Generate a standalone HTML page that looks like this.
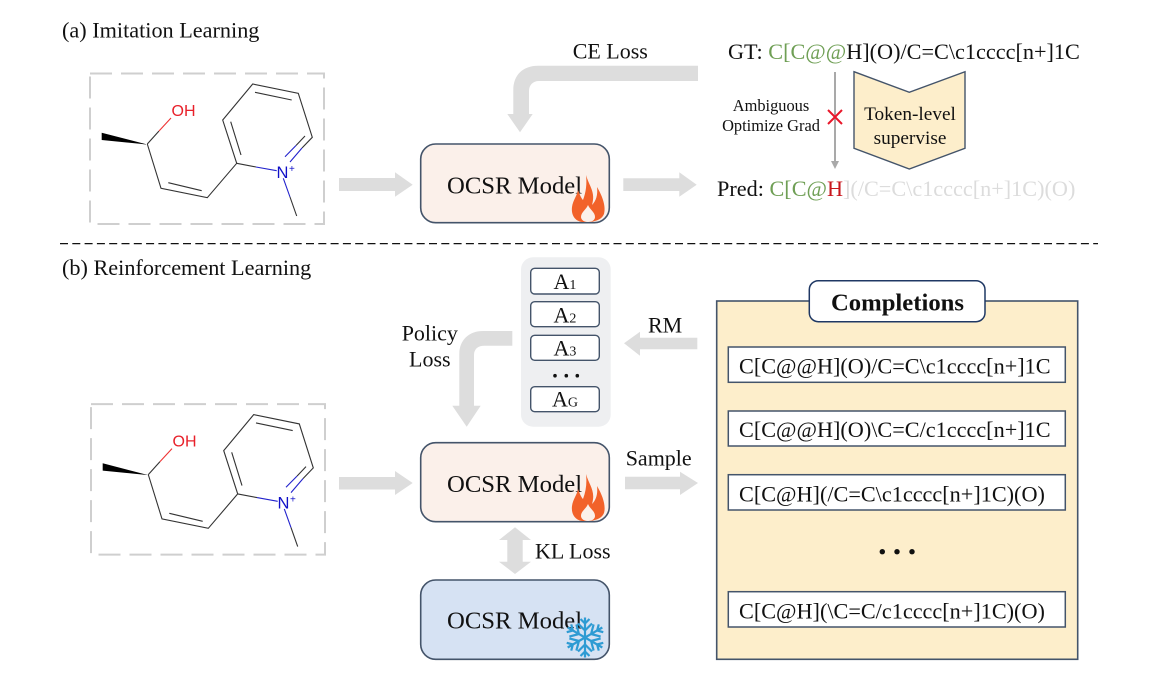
<!DOCTYPE html>
<html><head><meta charset="utf-8"><style>
html,body{margin:0;padding:0;background:#fff;width:1149px;height:697px;overflow:hidden}
svg{display:block}
text{font-family:"Liberation Serif",serif;font-size:22px;fill:#111}
.w{font-size:22.22px}
</style></head><body>
<svg width="1149" height="697" viewBox="0 0 1149 697" xmlns="http://www.w3.org/2000/svg">
<defs>
<g id="mol">
<rect x="90" y="73.5" width="234" height="150.5" fill="none" stroke="#cfcfcf" stroke-width="2" stroke-dasharray="22 9"/>
<polygon points="101.7,132.7 101.7,140 147.3,144.5" fill="#000"/>
<g fill="none" stroke="#333" stroke-width="1.1">
<path d="M147.3,144L161,188.3L207.3,197.7L236.7,163.3L222.7,120L252.7,84L298.3,93.3L312.3,137.3L302,148"/>
<path d="M168.3,182.7L201.7,190.7M241,155L230.7,121.7M255,92.3L291.7,100M305,136L296,145.5"/>
<path d="M236.7,163.3L256,167"/>
</g>
<path d="M147.3,144L159,131" stroke="#333" stroke-width="1.1"/>
<path d="M159,131L171,118" stroke="#e33" stroke-width="1.1"/>
<g stroke="#2222cc" stroke-width="1.1" fill="none">
<path d="M256,167L276.7,170.7M302,148L290,162M296,145.5L285,156.7M283.3,178.3L290,197"/>
</g>
<path d="M290,197L296.7,216" stroke="#333" stroke-width="1.1"/>
<text x="171.5" y="116" style="font-family:'Liberation Sans',sans-serif;font-size:16px;fill:#e8202a">OH</text>
<text x="276.5" y="178" style="font-family:'Liberation Sans',sans-serif;font-size:16.5px;fill:#1010c8">N</text>
<text x="289" y="172" style="font-family:'Liberation Sans',sans-serif;font-size:10px;fill:#1010c8">+</text>
</g>
<g id="flame">
<path d="M586,175C589,186 596,192 592,205C596,201 598,195 597,187C603,197 606,207 604,214C602,219 597,221 590,222H582C575,221 571,215 572,207C573,200 577,196 578,190C580,195 581,198 583,200C586,192 587,184 586,175Z" fill="#f2622a"/>
<path d="M588,205C590,210 595,212 595,217C595,220 592,222 588,222C583,222 581,219 581,217C581,212 586,210 588,205Z" fill="#fbf0ea"/>
</g>
<g id="arm"><path d="M0,0V-20M0,-7L-7,-14M0,-7L7,-14M0,-14L-4.5,-18.5M0,-14L4.5,-18.5" fill="none" stroke="#2e9bd3" stroke-width="2.2"/></g>
</defs>

<text class="w" x="62" y="37.7">(a) Imitation Learning</text>
<text class="w" x="62" y="275">(b) Reinforcement Learning</text>
<line x1="60" y1="243.6" x2="1098" y2="243.6" stroke="#111" stroke-width="1.3" stroke-dasharray="8 4.3"/>

<use href="#mol"/>
<use href="#mol" transform="translate(1,330.6)"/>

<g fill="#dddddd">
<polygon points="339,178 395,178 395,172.3 412.7,184.7 395,196.7 395,191 339,191"/>
<polygon points="339,477 395,477 395,471 412.7,483 395,495 395,489.5 339,489.5"/>
<polygon points="623.3,178.3 679.3,178.3 679.3,172.3 696.7,184.7 679.3,196.7 679.3,191 623.3,191"/>
<polygon points="625,476.7 680,476.7 680,471.7 698,483 680,495 680,489.3 625,489.3"/>
<path d="M698,65.7H538C523,65.7 513.3,75 513.3,90V114H507.3L520,132.3L532.7,114H529V91C529,85 533,81 539,81H698Z"/>
<path d="M512.3,331H483C469,331 459.3,340 459.3,354V405.7H452.3L466.7,426.7L480.7,405.7H474V355C474,349 478,345.7 484,345.7H512.3Z"/>
<polygon points="624,343.3 640,331.7 640,337.7 697.3,337.7 697.3,349.3 640,349.3 640,355.7"/>
<polygon points="515,527.3 531,540 522.7,540 522.7,561.7 531,561.7 515,574 499,561.7 507.3,561.7 507.3,540 499,540"/>
</g>

<text x="572.7" y="58.3">CE Loss</text>
<text x="401.7" y="340.7">Policy</text>
<text x="409" y="366.7">Loss</text>
<text x="648" y="332.3">RM</text>
<text x="625.7" y="465.7">Sample</text>
<text x="535" y="558.3">KL Loss</text>

<!-- top right -->
<text class="w" x="728" y="59">GT: <tspan fill="#6f9f55">C[C@@</tspan>H](O)/C=C\c1cccc[n+]1C</text>
<text class="w" x="717" y="196">Pred: <tspan fill="#6f9f55">C[C@</tspan><tspan fill="#c8161d">H</tspan><tspan fill="#dcdcdc">](/C=C\c1cccc[n+]1C)(O)</tspan></text>
<line x1="835" y1="72" x2="835" y2="162" stroke="#a9a9a9" stroke-width="2"/>
<polygon points="831,161 839,161 835,169" fill="#a9a9a9"/>
<path d="M828,110L842,124M842,110L828,124" stroke="#e8172a" stroke-width="2" fill="none"/>
<text x="771" y="111" text-anchor="middle" style="font-size:16.4px">Ambiguous</text>
<text x="771" y="131" text-anchor="middle" style="font-size:16.4px">Optimize Grad</text>
<polygon points="854,71.7 909.3,92.3 965,71.7 965,148.3 909.3,169 854,148.3" fill="#fdeecb" stroke="#44546a" stroke-width="1.4"/>
<text x="910" y="120" text-anchor="middle" style="font-size:19.3px">Token-level</text>
<text x="910" y="144" text-anchor="middle" style="font-size:19.3px">supervise</text>

<!-- OCSR boxes -->
<rect x="420.7" y="144" width="188.6" height="78.7" rx="15" fill="#fbf0ea" stroke="#44546a" stroke-width="1.6"/>
<text x="447" y="193.3" style="font-size:24.7px">OCSR Model</text>
<use href="#flame"/>
<rect x="420.7" y="442.7" width="188.6" height="79" rx="15" fill="#fbf0ea" stroke="#44546a" stroke-width="1.6"/>
<text x="447" y="492" style="font-size:24.7px">OCSR Model</text>
<use href="#flame" transform="translate(0,299)"/>
<rect x="420.7" y="580" width="188.6" height="79.3" rx="15" fill="#d6e2f3" stroke="#44546a" stroke-width="1.6"/>
<text x="447" y="628.3" style="font-size:24.7px">OCSR Model</text>
<g transform="translate(585,637.5)">
<use href="#arm"/><use href="#arm" transform="rotate(60)"/><use href="#arm" transform="rotate(120)"/><use href="#arm" transform="rotate(180)"/><use href="#arm" transform="rotate(240)"/><use href="#arm" transform="rotate(300)"/>
</g>

<!-- actions -->
<rect x="521" y="257.3" width="89.7" height="169.4" rx="12" fill="#eeeff1"/>
<g fill="#fff" stroke="#44546a" stroke-width="1.4">
<rect x="530.7" y="268.3" width="68.6" height="25.7" rx="4"/>
<rect x="530.7" y="301.7" width="68.6" height="25" rx="4"/>
<rect x="530.7" y="335.3" width="68.6" height="25" rx="4"/>
<rect x="530.7" y="386.7" width="68.6" height="25" rx="4"/>
</g>
<text x="553.5" y="289">A<tspan style="font-size:14px">1</tspan></text>
<text x="553.5" y="322.7">A<tspan style="font-size:14px">2</tspan></text>
<text x="553.5" y="355.7">A<tspan style="font-size:14px">3</tspan></text>
<text x="552" y="406.7">A<tspan style="font-size:14px">G</tspan></text>
<g fill="#111"><circle cx="555" cy="375.7" r="1.8"/><circle cx="566.3" cy="375.7" r="1.8"/><circle cx="577.3" cy="375.7" r="1.8"/></g>

<!-- completions -->
<rect x="716.7" y="301" width="361" height="358.3" fill="#fdeecb" stroke="#44546a" stroke-width="1.6"/>
<rect x="809.3" y="280.7" width="175.7" height="41" rx="9" fill="#fff" stroke="#1f3864" stroke-width="1.5"/>
<text x="897.5" y="310.7" text-anchor="middle" style="font-size:24.7px;font-weight:bold">Completions</text>
<g fill="#fff" stroke="#44546a" stroke-width="1.5">
<rect x="728.3" y="347" width="337" height="35.3"/>
<rect x="728.3" y="411" width="337" height="35"/>
<rect x="728.3" y="474.7" width="337" height="35.3"/>
<rect x="728.3" y="591.7" width="337" height="35.3"/>
</g>
<text class="w" x="739" y="373.3">C[C@@H](O)/C=C\c1cccc[n+]1C</text>
<text class="w" x="739" y="437">C[C@@H](O)\C=C/c1cccc[n+]1C</text>
<text class="w" x="739" y="501.7">C[C@H](/C=C\c1cccc[n+]1C)(O)</text>
<text class="w" x="739" y="618.3">C[C@H](\C=C/c1cccc[n+]1C)(O)</text>
<g fill="#111"><circle cx="882.3" cy="551.7" r="2.7"/><circle cx="897" cy="551.7" r="2.7"/><circle cx="912" cy="551.7" r="2.7"/></g>
</svg>
</body></html>
